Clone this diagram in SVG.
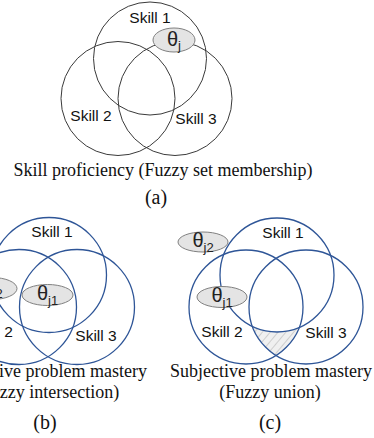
<svg xmlns="http://www.w3.org/2000/svg" width="374" height="438" viewBox="0 0 374 438">
<style>
.ca{fill:none;stroke:#3a3a3a;stroke-width:1}
.cb{fill:none;stroke:#2e5597;stroke-width:1.3}
.th{fill:#e4e4e4;stroke:#808080;stroke-width:1}
.sk{font-family:"Liberation Sans",Arial,sans-serif;font-size:15.5px;fill:#111}
.tt{font-family:"Liberation Sans",Arial,sans-serif;font-size:20px;fill:#222}
.cap{font-family:"Liberation Serif","Times New Roman",serif;font-size:18px;fill:#111}
.lab{font-family:"Liberation Serif","Times New Roman",serif;font-size:20px;fill:#111;text-anchor:middle}
</style>
<defs>
<pattern id="hatch" width="6" height="6" patternUnits="userSpaceOnUse" patternTransform="rotate(40)">
<rect width="6" height="6" fill="#f0f0f0"/>
<line x1="0" y1="0" x2="0" y2="6" stroke="#9a9a9a" stroke-width="0.8"/>
</pattern>
</defs>
<rect width="374" height="438" fill="#fff"/>

<g id="panel-a">
<g id="a-skill1"><circle class="ca" cx="150" cy="58.5" r="56.5"/><text class="sk" x="150" y="23" text-anchor="middle">Skill 1</text></g>
<g id="a-skill2"><circle class="ca" cx="118" cy="98.5" r="57"/><text class="sk" x="91" y="121" text-anchor="middle">Skill 2</text></g>
<g id="a-skill3"><circle class="ca" cx="175" cy="98.5" r="57"/><text class="sk" x="196" y="124" text-anchor="middle">Skill 3</text></g>
<g id="a-theta"><ellipse class="th" cx="174" cy="40" rx="21" ry="12"/><text class="tt" x="174" y="46" text-anchor="middle">θ<tspan font-size="13" dy="4">j</tspan></text></g>
<text class="cap" x="163" y="176" text-anchor="middle">Skill proficiency (Fuzzy set membership)</text>
<text class="lab" x="156" y="204" font-size="22">(a)</text>
</g>

<g id="panel-b">
<g id="b-skill1"><circle class="cb" cx="49" cy="275" r="57.5"/><text class="sk" x="52" y="237" text-anchor="middle">Skill 1</text></g>
<g id="b-skill2"><circle class="cb" cx="19" cy="307" r="57.5"/><text class="sk" x="13" y="337" text-anchor="end">Skill 2</text></g>
<g id="b-skill3"><circle class="cb" cx="77" cy="307" r="57.5"/><text class="sk" x="96" y="341" text-anchor="middle">Skill 3</text></g>
<g id="b-theta1"><ellipse class="th" cx="47.5" cy="295" rx="25.5" ry="10.5"/><text class="tt" x="47.5" y="300" text-anchor="middle">θ<tspan font-size="13" dy="5">j1</tspan></text></g>
<g id="b-theta2"><ellipse class="th" cx="-8" cy="288.5" rx="25" ry="11"/><text class="tt" x="-8" y="293" text-anchor="middle">θ<tspan font-size="13" dy="5">j2</tspan></text></g>
<text class="cap" x="46" y="377" text-anchor="middle">Subjective problem mastery</text>
<text class="cap" x="47" y="398" text-anchor="middle">(Fuzzy intersection)</text>
<text class="lab" x="45" y="429">(b)</text>
</g>

<g id="panel-c">
<g id="c-union-region"><path d="M252.4,326.4 A57,57 0 0 0 299.2,327.5 A57,57 0 0 1 276,355.5 A57,57 0 0 1 252.4,326.4 Z" fill="url(#hatch)" stroke="none"/></g>
<g id="c-skill1"><circle class="cb" cx="277" cy="275" r="57"/><text class="sk" x="283" y="238" text-anchor="middle">Skill 1</text></g>
<g id="c-skill2"><circle class="cb" cx="246" cy="307" r="57"/><text class="sk" x="222" y="337" text-anchor="middle">Skill 2</text></g>
<g id="c-skill3"><circle class="cb" cx="306" cy="307" r="57"/><text class="sk" x="326" y="338" text-anchor="middle">Skill 3</text></g>
<g id="c-theta1"><ellipse class="th" cx="222" cy="297" rx="25" ry="10.5"/><text class="tt" x="222" y="302" text-anchor="middle">θ<tspan font-size="13" dy="5">j1</tspan></text></g>
<g id="c-theta2"><ellipse class="th" cx="203" cy="242" rx="25" ry="10"/><text class="tt" x="203" y="247" text-anchor="middle">θ<tspan font-size="13" dy="5">j2</tspan></text></g>
<text class="cap" x="271" y="377" text-anchor="middle">Subjective problem mastery</text>
<text class="cap" x="270" y="398" text-anchor="middle">(Fuzzy union)</text>
<text class="lab" x="270" y="429">(c)</text>
</g>
<g id="connectors"/>
</svg>
